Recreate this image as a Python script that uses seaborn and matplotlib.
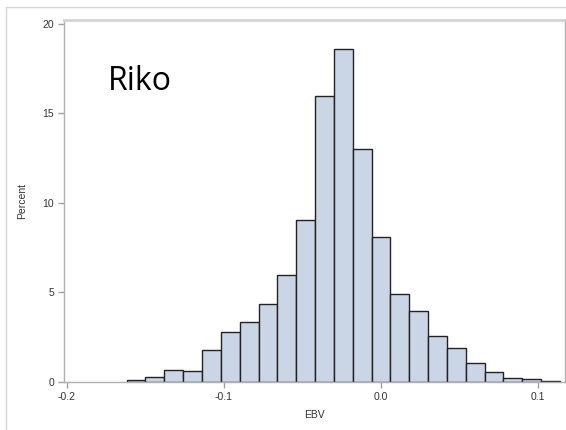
import numpy as np
import pandas as pd
import matplotlib
matplotlib.use("Agg")
import matplotlib.pyplot as plt
import seaborn as sns

# bin centres of the EBV histogram (bin width 0.012) and the percent in each bin
bin_centers = [-0.156, -0.144, -0.132, -0.120, -0.108, -0.096, -0.084, -0.072,
               -0.060, -0.048, -0.036, -0.024, -0.012, 0.000, 0.012, 0.024,
               0.036, 0.048, 0.060, 0.072, 0.084, 0.096, 0.108]
percent = [0.13, 0.30, 0.69, 0.60, 1.79, 2.79, 3.37, 4.38,
           5.96, 9.03, 15.96, 18.63, 13.02, 8.08, 4.94, 3.95,
           2.55, 1.90, 1.06, 0.56, 0.21, 0.17, 0.08]
bin_width = 0.012
x_ticks = [-0.2, -0.1, 0.0, 0.1]
y_ticks = [0, 5, 10, 15, 20]

df = pd.DataFrame({'EBV': bin_centers, 'Percent': percent})
edges = np.round(np.array(bin_centers) - bin_width/2, 4).tolist() + [round(bin_centers[-1] + bin_width/2, 4)]

sns.set_style("white")
plt.rcParams['font.family'] = ['Liberation Sans', 'DejaVu Sans']

fig = plt.figure(figsize=(5.66, 4.30), dpi=100)
ax = fig.add_axes([64/566, 48/430, 501/566, 362.5/430])

sns.histplot(data=df, x='EBV', weights='Percent', bins=edges, stat='count',
             color='#cad5e5', edgecolor='#222222', linewidth=1.0, alpha=1.0, ax=ax)

ax.set_xlim(-0.2019, 0.1172)
ax.set_ylim(0, 20.25)
ax.set_xticks(x_ticks)
ax.set_xticklabels(['%.1f' % v for v in x_ticks])
ax.set_yticks(y_ticks)
ax.set_xlabel('EBV', fontsize=7.5, color='#333333', labelpad=6)
ax.set_ylabel('Percent', fontsize=7.5, color='#333333', labelpad=11)
ax.tick_params(axis='both', labelsize=7.5, labelcolor='#333333', color='#a0a0a0',
               length=4, width=1, direction='out', bottom=True, left=True, pad=3)

for side in ['left', 'bottom', 'right']:
    ax.spines[side].set_color('#b0b0b0')
    ax.spines[side].set_linewidth(1)
ax.spines['top'].set_color('#cfd4d4')
ax.spines['top'].set_linewidth(2)

ax.text(0.087, 0.83, 'Riko', transform=ax.transAxes, fontsize=23,
        family=['Open Sans', 'DejaVu Sans'], color='black', va='center')

# light outer frame of the original graph
fig.add_artist(plt.Line2D([6/566, 6/566], [0, 1 - 7/430], transform=fig.transFigure,
                          color='#d6d6d6', linewidth=1))
fig.add_artist(plt.Line2D([6/566, 1], [1 - 7/430, 1 - 7/430], transform=fig.transFigure,
                          color='#d6d6d6', linewidth=1))

fig.savefig('out.png', dpi=100)
